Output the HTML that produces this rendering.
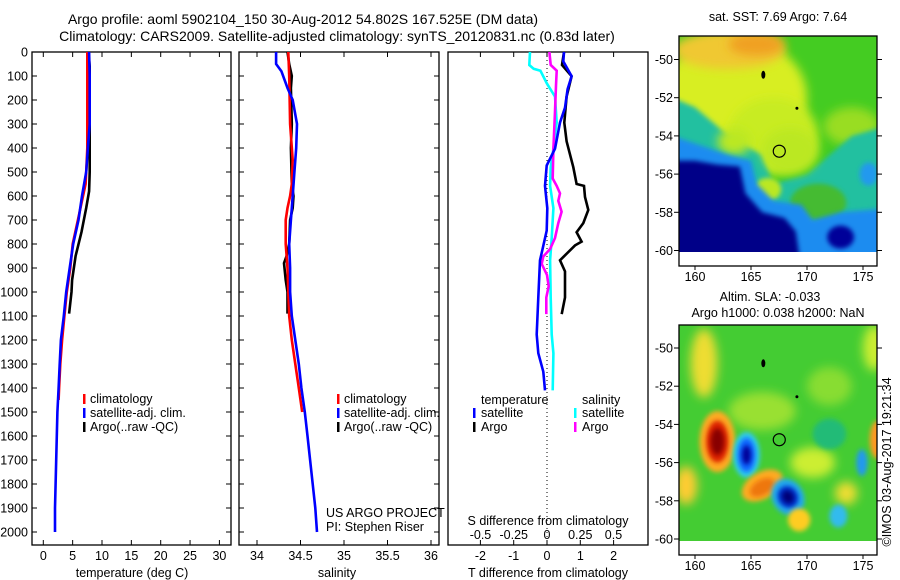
<!DOCTYPE html>
<html><head><meta charset="utf-8"><style>
html,body{margin:0;padding:0;background:#fff;}
svg{display:block;font-family:"Liberation Sans",sans-serif;}
text{font-size:12.5px;fill:#000;}
</style></head><body>
<svg id="fig" width="900" height="580" viewBox="0 0 900 580" xmlns="http://www.w3.org/2000/svg">
<defs>
<filter id="blur6" x="-50%" y="-50%" width="200%" height="200%"><feGaussianBlur stdDeviation="5"/></filter>
<filter id="blur3" x="-50%" y="-50%" width="200%" height="200%"><feGaussianBlur stdDeviation="2.5"/></filter>
<clipPath id="clipTop"><rect x="679" y="36" width="198" height="216"/></clipPath>
<clipPath id="clipBot"><rect x="679" y="325" width="198" height="216"/></clipPath>
</defs>
<text x="303" y="24" text-anchor="middle" style="font-size:14px">Argo profile: aoml 5902104_150 30-Aug-2012 54.802S 167.525E (DM data)</text>
<text x="337" y="41" text-anchor="middle" style="font-size:14px">Climatology: CARS2009. Satellite-adjusted climatology: synTS_20120831.nc (0.83d later)</text>
<g id="maps"></g>
<g id="plots"></g>
</svg>
<script>
// ---------- data: temperature panel ----------
const tClimDepth = [0,100,400,500,550,700,800,900,1000,1100,1200,1300,1400,1450];
const tClimVal   = [7.5,7.5,7.5,7.3,7.2,5.9,5.0,4.6,4.0,3.6,3.2,2.9,2.7,2.6];
const tSatDepth  = [0,100,300,400,500,600,700,800,900,1000,1100,1200,1300,1400,1500,1700,1900,2000];
const tSatVal    = [7.8,7.9,7.9,7.6,7.3,6.6,6.0,5.1,4.5,3.9,3.5,3.0,2.8,2.6,2.4,2.2,2.0,2.0];
const tArgoDepth = [0,60,500,580,650,750,850,950,1000,1090];
const tArgoVal   = [7.7,7.9,7.9,7.8,7.3,6.5,5.5,4.9,4.8,4.4];
// ---------- data: salinity panel ----------
const sClimDepth = [0,100,300,450,550,600,650,700,800,900,1000,1100,1200,1300,1400,1500];
const sClimVal   = [34.36,34.37,34.38,34.41,34.40,34.38,34.35,34.33,34.33,34.35,34.36,34.37,34.40,34.44,34.48,34.52];
const sSatDepth  = [0,50,80,150,200,300,400,500,600,700,800,900,1000,1100,1200,1300,1400,1500,1600,1700,1800,1900,2000];
const sSatVal    = [34.22,34.22,34.28,34.35,34.41,34.46,34.45,34.43,34.41,34.39,34.37,34.38,34.38,34.40,34.44,34.48,34.51,34.55,34.58,34.61,34.64,34.67,34.69];
const sArgoDepth = [0,50,100,150,300,400,550,600,650,700,800,850,880,950,1000,1090];
const sArgoVal   = [34.35,34.37,34.40,34.39,34.40,34.39,34.40,34.42,34.41,34.38,34.37,34.34,34.31,34.33,34.35,34.35];
// ---------- data: difference panel ----------
const dTArgoDepth = [0,54,101,186,294,372,480,550,558,604,658,713,751,790,806,868,914,1023,1092];
const dTArgoVal   = [0.51,0.45,0.74,0.59,0.52,0.59,0.79,0.89,1.11,1.14,1.24,1.09,0.89,1.04,0.84,0.39,0.54,0.54,0.44];
const dTSatDepth  = [0,39,101,155,232,294,403,473,558,651,744,837,868,1023,1177,1255,1332,1410];
const dTSatVal    = [0.51,0.49,0.74,0.62,0.54,0.39,0.24,-0.01,-0.06,0.01,-0.01,-0.16,-0.21,-0.26,-0.31,-0.26,-0.11,-0.06];
const dSSatDepth  = [0,54,70,78,132,186,294,403,480,558,651,775,868,1023,1177,1255,1410];
const dSSatVal    = [-0.128,-0.133,-0.10,-0.05,0.0,0.06,0.073,0.048,0.028,0.023,0.048,0.035,0.023,0.028,0.035,0.048,0.043];
const dSArgoDepth = [0,54,78,140,248,403,527,558,589,620,666,713,775,821,852,883,929,976,1023,1092];
const dSArgoVal   = [0.018,0.028,0.073,0.068,0.06,0.048,0.043,0.073,0.098,0.085,0.11,0.085,0.06,0.023,-0.028,-0.04,0.0,0.013,-0.005,-0.005];
// ---------- tick labels ----------
const depthTicks = [0,100,200,300,400,500,600,700,800,900,1000,1100,1200,1300,1400,1500,1600,1700,1800,1900,2000];
const tempTicks = [0,5,10,15,20,25,30];
const salTicks = ['34','34.5','35','35.5','36'];
const dTTicks = [-2,-1,0,1,2];
const dSTicks = ['-0.5','-0.25','0','0.25','0.5'];
const lonTicks = [160,165,170,175];
const latTicks = [-50,-52,-54,-56,-58,-60];

const NS='http://www.w3.org/2000/svg';
function mk(tag, attrs, parent){const e=document.createElementNS(NS,tag);for(const k in attrs)e.setAttribute(k,attrs[k]);parent.appendChild(e);return e;}
const plots=document.getElementById('plots');
const maps=document.getElementById('maps');

const depthY = d => 52 + d*0.24;
const tX = t => 43.3 + t*5.87;
const sX = s => 257 + (s-34)*87;
const dtX = v => 547 + v*33.3;
const dsX = v => 547 + v*133;

function stepPath(xs, ys){
  let p='M'+xs[0].toFixed(1)+' '+ys[0].toFixed(1);
  for(let i=1;i<xs.length;i++){p+=' L'+xs[i].toFixed(1)+' '+ys[i].toFixed(1);}
  return p;
}
function profile(depths, vals, xf, color, name){
  const el=mk('path',{d:stepPath(vals.map(xf),depths.map(depthY)),fill:'none',stroke:color,'stroke-width':2.6,'stroke-linejoin':'miter'},plots);
  
  
}

const panels=[[32,231,'temperature-panel'],[239,439,'salinity-panel'],[448,648,'difference-panel']];
panels.forEach(p=>{
  const r=mk('rect',{x:p[0],y:52,width:p[1]-p[0],height:493,fill:'none',stroke:'#000','stroke-width':1.3},plots);
  
  
});
depthTicks.forEach(d=>{
  const y=depthY(d);
  [[32,37],[226,231],[239,244],[434,439]].forEach(s=>{
    const t=mk('line',{x1:s[0],x2:s[1],y1:y,y2:y,stroke:'#000','stroke-width':1},plots);
    
    
  });
  const lb=mk('text',{x:28,y:y+4.5,'text-anchor':'end'},plots);
  lb.textContent=d;
  
  
});
function xTicks(vals, xf, lblY, pname){
  vals.forEach(v=>{
    const x=xf(parseFloat(v));
    [[52,57],[540,545]].forEach(s=>{
      const t=mk('line',{x1:x,x2:x,y1:s[0],y2:s[1],stroke:'#000','stroke-width':1},plots);
      
      
    });
    const lb=mk('text',{x:x,y:lblY,'text-anchor':'middle'},plots);
    lb.textContent=v;
    
    
  });
}
xTicks(tempTicks,tX,560,'temperature');
xTicks(salTicks,sX,560,'salinity');
xTicks(dTTicks,dtX,560,'t-diff');
dSTicks.forEach(v=>{
  const lb=mk('text',{x:dsX(parseFloat(v)),y:539,'text-anchor':'middle'},plots);
  lb.textContent=v;
  
  
});
const zl=mk('line',{x1:547,x2:547,y1:52,y2:545,stroke:'#000','stroke-width':1,'stroke-dasharray':'1,3'},plots);



profile(tArgoDepth,tArgoVal,tX,'#000','temperature-argo-line');
profile(tClimDepth,tClimVal,tX,'#ff0000','temperature-climatology-line');
profile(tSatDepth,tSatVal,tX,'#0000ff','temperature-satellite-line');
profile(sArgoDepth,sArgoVal,sX,'#000','salinity-argo-line');
profile(sClimDepth,sClimVal,sX,'#ff0000','salinity-climatology-line');
profile(sSatDepth,sSatVal,sX,'#0000ff','salinity-satellite-line');
profile(dTArgoDepth,dTArgoVal,dtX,'#000','t-diff-argo-line');
profile(dSSatDepth,dSSatVal,dsX,'#00ffff','s-diff-satellite-line');
profile(dSArgoDepth,dSArgoVal,dsX,'#ff00ff','s-diff-argo-line');
profile(dTSatDepth,dTSatVal,dtX,'#0000ff','t-diff-satellite-line');

function txt(x,y,s,name,anchor,extra){
  const e=mk('text',Object.assign({x:x,y:y,'text-anchor':anchor||'start'},extra||{}),plots);
  e.textContent=s;
  
  
  return e;
}
function mark(x,y,color){
  const e=mk('rect',{x:x,y:y-9,width:2.5,height:10,fill:color},plots);
  
  
}
[[83,'climatology','#ff0000',403],[83,'satellite-adj. clim.','#0000ff',417],[83,'Argo(..raw -QC)','#000',431]].forEach(l=>{mark(l[0],l[3],l[2]);txt(l[0]+7,l[3],l[1],'temperature-legend-entry');});
[[337,'climatology','#ff0000',403],[337,'satellite-adj. clim.','#0000ff',417],[337,'Argo(..raw -QC)','#000',431]].forEach(l=>{mark(l[0],l[3],l[2]);txt(l[0]+7,l[3],l[1],'salinity-legend-entry');});
txt(481,404,'temperature','diff-legend-temperature-header');
txt(582,404,'salinity','diff-legend-salinity-header');
mark(473,417,'#0000ff');txt(481,417,'satellite','diff-legend-temp-satellite');
mark(473,431,'#000');txt(481,431,'Argo','diff-legend-temp-argo');
mark(574,417,'#00ffff');txt(582,417,'satellite','diff-legend-sal-satellite');
mark(574,431,'#ff00ff');txt(582,431,'Argo','diff-legend-sal-argo');
txt(326,517,'US ARGO PROJECT','project-label');
txt(326,531,'PI: Stephen Riser','pi-label');
txt(132,577,'temperature (deg C)','temperature-axis-title','middle');
txt(337,577,'salinity','salinity-axis-title','middle');
txt(548,525,'S difference from climatology','s-diff-axis-title','middle');
txt(548,577,'T difference from climatology','t-diff-axis-title','middle');

// ---------- maps ----------
const lonX = lon => 695 + (lon-160)*11.2;
const latYTop = lat => 59.5 + (-50-lat)*19.1;
const latYBot = lat => 348 + (-50-lat)*19.1;
function mtxt(x,y,s,name,anchor,extra){
  const e=mk('text',Object.assign({x:x,y:y,'text-anchor':anchor||'start'},extra||{}),maps);
  e.textContent=s;
  
  
  return e;
}
function ell(g,ly,lon,lat,rx,ry,fill,rot,filt){
  const cx=lonX(lon),cy=ly(lat);
  const e=mk('ellipse',{cx:cx,cy:cy,rx:rx*11.2,ry:ry*19.1,fill:fill},g);
  if(rot)e.setAttribute('transform','rotate('+rot+' '+cx+' '+cy+')');
  if(filt)e.setAttribute('filter',filt);
  
  
}
function poly(g,ly,pts,fill,filt){
  const e=mk('polygon',{points:pts.map(p=>lonX(p[0]).toFixed(1)+','+ly(p[1]).toFixed(1)).join(' '),fill:fill,filter:filt||'url(#blur3)'},g);
  
  
}
const gT=mk('g',{'clip-path':'url(#clipTop)'},maps);


mk('rect',{x:679,y:36,width:198,height:216,fill:'#44cc22'},gT);
ell(gT,latYTop,163.5,-52,6.5,3.2,'#d8ee22',0,'url(#blur6)');
ell(gT,latYTop,167,-54,4,2,'#c8ec22',0,'url(#blur6)');
ell(gT,latYTop,174,-53.5,2.5,1,'#99dd22',0,'url(#blur6)');
ell(gT,latYTop,163,-49.5,5,1,'#f0c830',0,'url(#blur6)');
ell(gT,latYTop,165.5,-49.2,2.5,0.6,'#f0a020',0,'url(#blur6)');
poly(gT,latYTop,[[158,-52],[160,-52.5],[163,-54],[166,-55],[167,-56.5],[170,-56],[172,-55],[174,-54],[177,-53.5],[177,-61],[158,-61]],'#20c0a0');
ell(gT,latYTop,168.5,-54.8,2.5,1.2,'#bbe822',0,'url(#blur6)');
ell(gT,latYTop,163.5,-54.3,1.5,0.7,'#bbe822',0,'url(#blur6)');
ell(gT,latYTop,171,-57.5,2.5,1,'#44bb33',0,'url(#blur3)');
ell(gT,latYTop,166.5,-56.8,1.2,0.6,'#bbe822',0,'url(#blur3)');
poly(gT,latYTop,[[158,-54],[160,-54.4],[163,-55],[165,-55.3],[165.5,-56.5],[167,-57.4],[169.5,-57.6],[170.5,-58.4],[173,-58],[177,-57.8],[177,-61],[158,-61]],'#1a8cf0');
ell(gT,latYTop,175.5,-56,0.8,0.6,'#2299ee',0,'url(#blur3)');
poly(gT,latYTop,[[158,-55.3],[160,-55.3],[162,-55.5],[164,-55.6],[164.5,-57],[166,-58],[168,-58.3],[169,-59],[169.5,-61],[158,-61]],'#000088','url(#blur3)');
ell(gT,latYTop,173,-59.3,1.2,0.6,'#000099',0,'url(#blur3)');
mk('rect',{x:679,y:252,width:198,height:14,fill:'#fff'},maps);
const gB=mk('g',{'clip-path':'url(#clipBot)'},maps);


mk('rect',{x:679,y:325,width:198,height:216,fill:'#44cc33'},gB);
ell(gB,latYBot,160.8,-50.8,1.2,1.8,'#eedd33',0,'url(#blur6)');
ell(gB,latYBot,166,-53.3,3,1,'#99e033',0,'url(#blur6)');
ell(gB,latYBot,172,-52,2,1,'#88dd33',0,'url(#blur6)');
ell(gB,latYBot,176,-50,1,1.2,'#ccee33',0,'url(#blur6)');
ell(gB,latYBot,170.5,-56,2,0.8,'#ccee33',0,'url(#blur6)');
ell(gB,latYBot,172,-54.5,1.5,0.8,'#22bb77',0,'url(#blur3)');
ell(gB,latYBot,159.2,-57.2,1,1,'#ffcc33',0,'url(#blur6)');
ell(gB,latYBot,173.5,-57.6,1,0.6,'#eedd33',0,'url(#blur6)');
ell(gB,latYBot,176.3,-54.8,0.7,1,'#ff9922',0,'url(#blur3)');
ell(gB,latYBot,162,-54.9,1.6,1.6,'#ffaa22',0,'url(#blur3)');
ell(gB,latYBot,162,-54.9,1.0,1.1,'#dd2200',0,'url(#blur3)');
ell(gB,latYBot,162,-54.9,0.6,0.7,'#880000',0,'url(#blur3)');
ell(gB,latYBot,164.6,-55.6,1.2,1.2,'#33ccee',0,'url(#blur3)');
ell(gB,latYBot,164.6,-55.6,0.8,0.9,'#1166ff',0,'url(#blur3)');
ell(gB,latYBot,164.6,-55.6,0.4,0.5,'#000099',0,'url(#blur3)');
ell(gB,latYBot,166,-57.2,2,0.7,'#ffaa22',-30,'url(#blur3)');
ell(gB,latYBot,166,-57.3,1.2,0.4,'#ee7711',-30,'url(#blur3)');
ell(gB,latYBot,168.3,-57.8,1.4,1,'#22aaee',-30,'url(#blur3)');
ell(gB,latYBot,168.3,-57.8,0.9,0.6,'#0033cc',-30,'url(#blur3)');
ell(gB,latYBot,168.3,-57.8,0.5,0.35,'#000077',-30,'url(#blur3)');
ell(gB,latYBot,169.3,-59,1,0.6,'#ffcc22',0,'url(#blur3)');
ell(gB,latYBot,172.8,-58.8,0.8,0.6,'#33bbee',0,'url(#blur3)');
ell(gB,latYBot,174.9,-56,0.5,0.7,'#2299ee',0,'url(#blur3)');
mk('rect',{x:679,y:541,width:198,height:14,fill:'#fff'},maps);
[[36,266,latYTop,281,'sst-map-frame'],[325,555,latYBot,570,'sla-map-frame']].forEach(m=>{
  const f=mk('rect',{x:679,y:m[0],width:198,height:m[1]-m[0],fill:'none',stroke:'#000','stroke-width':1.3},maps);
  
  
  latTicks.forEach(l=>{
    const y=m[2](l);
    const t1=mk('line',{x1:674,x2:679,y1:y,y2:y,stroke:'#000'},maps);
    
    
    const t2=mk('line',{x1:877,x2:882,y1:y,y2:y,stroke:'#000'},maps);
    
    
    mtxt(673,y+4.5,String(l),'lat-tick-label','end');
  });
  lonTicks.forEach(l=>{
    const x=lonX(l);
    const t=mk('line',{x1:x,x2:x,y1:m[1],y2:m[1]+4,stroke:'#000'},maps);
    
    
    mtxt(x,m[3],String(l),'lon-tick-label','middle');
  });
  const c=mk('circle',{cx:lonX(167.525),cy:m[2](-54.802),r:6,fill:'none',stroke:'#000','stroke-width':1.2},maps);
  
  
  const i1=mk('ellipse',{cx:lonX(166.1),cy:m[2](-50.8),rx:2,ry:4,fill:'#000'},maps);
  
  
  const i2=mk('circle',{cx:lonX(169.1),cy:m[2](-52.55),r:1.5,fill:'#000'},maps);
  
  
});
mtxt(778,21,'sat. SST: 7.69 Argo: 7.64','sst-map-title','middle');
mtxt(770,301,'Altim. SLA: -0.033','sla-map-title','middle');
mtxt(778,317,'Argo h1000: 0.038 h2000: NaN','argo-height-title','middle');
mtxt(0,0,'©IMOS 03-Aug-2017 19:21:34','timestamp-label','middle',{transform:'translate(891,462) rotate(-90)'});
</script>
</body></html>
